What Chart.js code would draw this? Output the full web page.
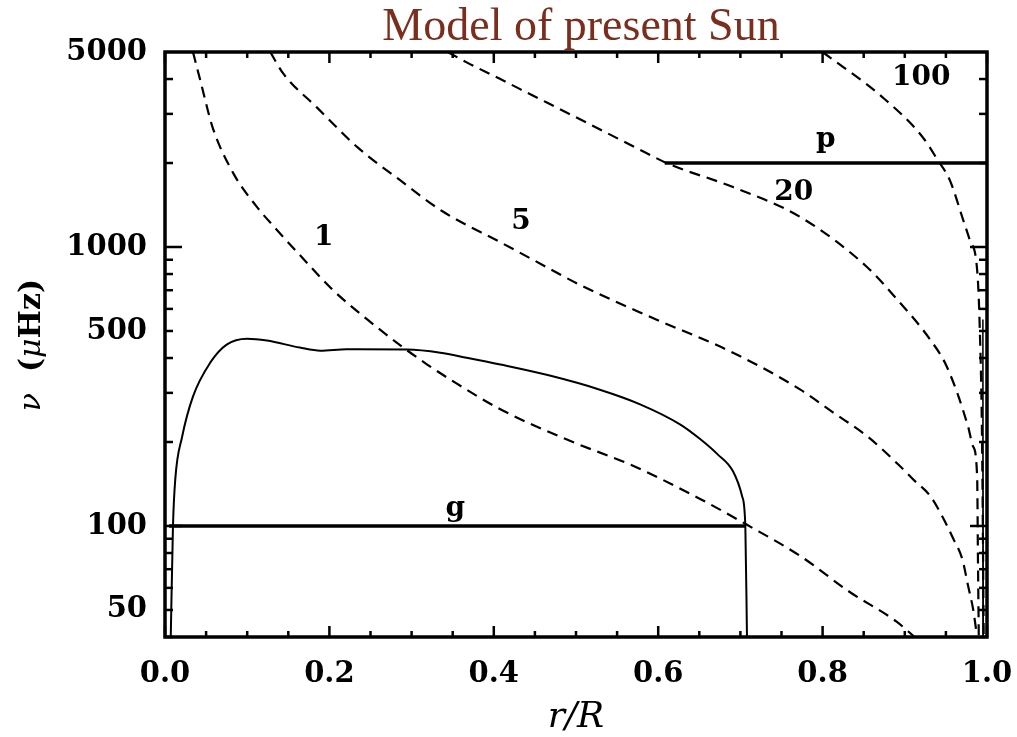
<!DOCTYPE html>
<html>
<head>
<meta charset="utf-8">
<script src="https://cdn.jsdelivr.net/npm/chart.js@4"></script>
<style>
  body { margin: 0; background: #fff; }
</style>
</head>
<body>
<canvas id="c" width="1017" height="737"></canvas>
<script>
// Lamb frequency curves, l = 1, 5, 20, 100 (r/R, nu in microHz)
const lamb1R = [0.034, 0.043, 0.058, 0.083, 0.112, 0.134, 0.164, 0.204, 0.246, 0.290, 0.319, 0.347, 0.408, 0.489, 0.570, 0.651, 0.708, 0.773, 0.833, 0.890, 0.912];
const lamb1Nu = [5000, 3950, 2680, 1840, 1390, 1170, 936, 702, 550, 436, 379, 335, 262, 204, 164, 125, 101, 78, 58, 45.4, 40];

const lamb5R = [0.128, 0.144, 0.185, 0.234, 0.286, 0.338, 0.408, 0.448, 0.505, 0.590, 0.691, 0.773, 0.813, 0.854, 0.894, 0.910, 0.931, 0.945, 0.959, 0.970, 0.977, 0.983, 0.988];
const lamb5Nu = [5000, 4180, 3160, 2280, 1735, 1340, 1040, 899, 731, 562, 418, 308, 255, 210, 164, 147, 128, 109, 90, 76, 61, 50.5, 40];

const lamb20R = [0.344, 0.367, 0.408, 0.432, 0.489, 0.582, 0.611, 0.691, 0.773, 0.854, 0.891, 0.931, 0.951, 0.977, 0.983, 0.988, 0.989, 0.990];
const lamb20Nu = [5000, 4590, 4000, 3680, 3030, 2200, 1995, 1640, 1280, 848, 647, 465, 373, 227, 193, 151, 76, 40];

const lamb100R = [0.800, 0.873, 0.922, 0.940, 0.955, 0.971, 0.979, 0.988, 0.991, 0.994, 0.996];
const lamb100Nu = [5000, 3440, 2470, 2050, 1730, 1250, 1060, 828, 535, 200, 40];

// buoyancy frequency N
const buoyR = [0.007, 0.0097, 0.0125, 0.0207, 0.034, 0.055, 0.075, 0.100, 0.124, 0.164, 0.189, 0.221, 0.294, 0.335, 0.367, 0.408, 0.468, 0.529, 0.578, 0.627, 0.651, 0.672, 0.691, 0.702, 0.706, 0.708];
const buoyNu = [40, 100, 147, 208, 291, 385, 447, 469, 462, 436, 425, 430, 429, 418, 401, 379, 346, 308, 273, 231, 205, 181, 157, 128, 100, 40];
const buoySurfR = [0.9945, 0.995, 0.9955];
const buoySurfNu = [40, 550, 40];

// trapped modes
const gModeR = [0.005, 0.706];
const gModeNu = [100, 100];
const pModeR = [0.608, 1.0];
const pModeNu = [2000, 2000];

// axis ticks
const xTickLabels = [0, 0.2, 0.4, 0.6, 0.8, 1.0];
const xMinorTicks = [0.05, 0.1, 0.15, 0.25, 0.3, 0.35, 0.45, 0.5, 0.55, 0.65, 0.7, 0.75, 0.85, 0.9, 0.95];
const yTickLabels = [50, 100, 500, 1000, 5000];
const yMajorTicks = [100, 1000];
const yMinorTicks = [40, 50, 60, 70, 80, 90, 200, 300, 400, 500, 600, 700, 800, 900, 2000, 3000, 4000];

const tickFont = { family: 'DejaVu Serif', size: 29, weight: 'bold' };

const curveLabels = [
  { text: '1', r: 0.193, nu: 1077, base: 'middle' },
  { text: '5', r: 0.433, nu: 1228, base: 'middle' },
  { text: '20', r: 0.765, nu: 1560, base: 'middle' },
  { text: '100', r: 0.920, nu: 4045, base: 'middle' },
  { text: 'p', r: 0.804, nu: 2275, base: 'alphabetic' },
  { text: 'g', r: 0.353, nu: 108.6, base: 'alphabetic' },
];

function pts(rs, nus) {
  return rs.map((r, i) => ({ x: r, y: nus[i] }));
}

function dashed(rs, nus) {
  return { data: pts(rs, nus), borderColor: '#000', borderWidth: 2.2, borderDash: [11, 7], pointRadius: 0, cubicInterpolationMode: 'monotone', fill: false };
}

const frame = {
  id: 'frame',
  afterDatasetsDraw(chart) {
    const { ctx, chartArea: a, scales: { x, y } } = chart;
    ctx.save();
    ctx.strokeStyle = '#000';
    ctx.lineWidth = 2.5;
    const tick = (x0, y0, x1, y1) => {
      ctx.beginPath();
      ctx.moveTo(x0, y0);
      ctx.lineTo(x1, y1);
      ctx.stroke();
    };
    for (const v of xTickLabels) {
      const px = x.getPixelForValue(v);
      tick(px, a.bottom, px, a.bottom - 11);
      tick(px, a.top, px, a.top + 11);
    }
    for (const v of xMinorTicks) {
      const px = x.getPixelForValue(v);
      tick(px, a.bottom, px, a.bottom - 6);
      tick(px, a.top, px, a.top + 6);
    }
    for (const v of yMajorTicks) {
      const py = y.getPixelForValue(v);
      tick(a.left, py, a.left + 17, py);
      tick(a.right, py, a.right - 17, py);
    }
    for (const v of yMinorTicks) {
      const py = y.getPixelForValue(v);
      tick(a.left, py, a.left + 8, py);
      tick(a.right, py, a.right - 8, py);
    }
    ctx.lineWidth = 3.5;
    ctx.strokeRect(a.left, a.top, a.right - a.left, a.bottom - a.top);

    // curve labels
    ctx.fillStyle = '#000';
    ctx.font = 'bold 28px "DejaVu Serif"';
    ctx.textAlign = 'center';
    for (const l of curveLabels) {
      ctx.textBaseline = l.base;
      ctx.fillText(l.text, x.getPixelForValue(l.r), y.getPixelForValue(l.nu));
    }

    // title
    ctx.fillStyle = '#7b2d1e';
    ctx.font = '46px "Liberation Serif"';
    ctx.textBaseline = 'alphabetic';
    ctx.fillText('Model of present Sun', 581, 40);

    // x axis title
    ctx.fillStyle = '#000';
    ctx.font = 'italic 36px "DejaVu Serif"';
    ctx.fillText('r/R', (a.left + a.right) / 2, 727);

    // y axis title, mixed italic greek
    const parts = [
      ['ν', 'italic 30px "DejaVu Serif"'],
      ['  (', 'bold 30px "DejaVu Serif"'],
      ['μ', 'italic 30px "DejaVu Serif"'],
      ['Hz)', 'bold 30px "DejaVu Serif"'],
    ];
    let total = 0;
    for (const [t, f] of parts) { ctx.font = f; total += ctx.measureText(t).width; }
    ctx.translate(40, 345);
    ctx.rotate(-Math.PI / 2);
    ctx.textAlign = 'left';
    let cx = -total / 2;
    for (const [t, f] of parts) {
      ctx.font = f;
      ctx.fillText(t, cx, 0);
      cx += ctx.measureText(t).width;
    }
    ctx.restore();
  }
};

new Chart(document.getElementById('c'), {
  type: 'line',
  data: {
    datasets: [
      dashed(lamb1R, lamb1Nu),
      dashed(lamb5R, lamb5Nu),
      dashed(lamb20R, lamb20Nu),
      dashed(lamb100R, lamb100Nu),
      { data: pts(buoyR, buoyNu), borderColor: '#000', borderWidth: 2, pointRadius: 0, cubicInterpolationMode: 'monotone' },
      { data: pts(buoySurfR, buoySurfNu), borderColor: '#000', borderWidth: 1.5, pointRadius: 0, tension: 0 },
      { data: pts(gModeR, gModeNu), borderColor: '#000', borderWidth: 3.5, pointRadius: 0 },
      { data: pts(pModeR, pModeNu), borderColor: '#000', borderWidth: 3.5, pointRadius: 0 },
    ],
  },
  options: {
    responsive: false,
    animation: false,
    layout: { padding: { top: 52, right: 30, left: 0, bottom: 0 } },
    plugins: {
      legend: { display: false },
      tooltip: { enabled: false },
    },
    scales: {
      x: {
        type: 'linear',
        min: 0,
        max: 1,
        grid: { display: false, drawTicks: false },
        border: { display: false },
        afterBuildTicks: (s) => { s.ticks = xTickLabels.map((v) => ({ value: v })); },
        ticks: { padding: 20, color: '#000', font: tickFont, maxRotation: 0, callback: (v) => v.toFixed(1) },
        afterFit: (s) => { s.height = 100; s.paddingLeft = 0; s.paddingRight = 0; },
      },
      y: {
        type: 'logarithmic',
        min: 40,
        max: 5000,
        grid: { display: false, drawTicks: false },
        border: { display: false },
        afterBuildTicks: (s) => { s.ticks = yTickLabels.map((v) => ({ value: v })); },
        ticks: { padding: 18, color: '#000', font: tickFont, callback: (v) => String(v) },
        afterFit: (s) => { s.width = 165; s.paddingTop = 0; s.paddingBottom = 0; },
      },
    },
  },
  plugins: [frame],
});
</script>
</body>
</html>
